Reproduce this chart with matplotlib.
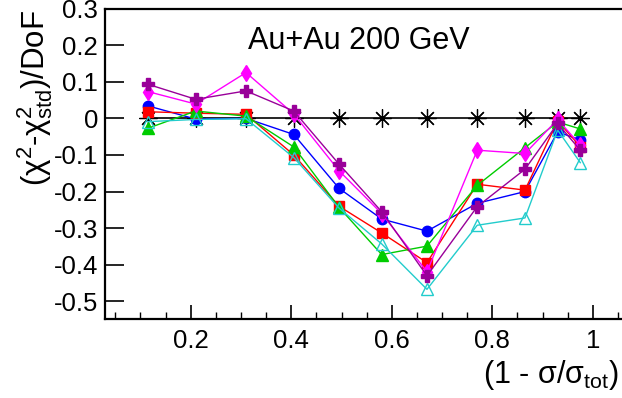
import matplotlib
matplotlib.use("Agg")
import matplotlib.pyplot as plt
from matplotlib.ticker import MultipleLocator

plt.rcParams['font.family'] = ['Liberation Sans', 'DejaVu Sans']
plt.rcParams['mathtext.fontset'] = 'custom'
plt.rcParams['mathtext.rm'] = 'Liberation Sans'
plt.rcParams['mathtext.it'] = 'Liberation Sans:italic'
plt.rcParams['mathtext.bf'] = 'Liberation Sans:bold'

x = [0.115, 0.21, 0.31, 0.405, 0.495, 0.58, 0.67, 0.77, 0.865, 0.93, 0.975]

ref_std = [0, 0, 0, 0, 0, 0, 0, 0, 0, 0, 0]
blue = [0.034, -0.002, 0.0, -0.044, -0.191, -0.275, -0.308, -0.232, -0.200, -0.037, -0.059]
red = [0.018, 0.014, 0.011, -0.100, -0.240, -0.313, -0.394, -0.180, -0.196, -0.007, -0.077]
green = [-0.027, 0.020, 0.006, -0.078, -0.243, -0.372, -0.349, -0.183, -0.080, -0.010, -0.029]
cyan = [-0.009, -0.003, -0.001, -0.107, -0.245, -0.343, -0.467, -0.292, -0.272, -0.032, -0.121]
magenta = [0.073, 0.039, 0.125, 0.012, -0.143, -0.260, -0.419, -0.087, -0.096, -0.003, -0.073]
purple = [0.093, 0.052, 0.075, 0.020, -0.125, -0.255, -0.430, -0.241, -0.139, -0.014, -0.087]

fig = plt.figure(figsize=(6.22, 3.98), dpi=100)
ax = fig.add_axes([105/622, (398-319)/398, (622-105)/622, (319-8.5)/398])

ax.plot(x, ref_std, color='black', lw=1.2, marker=(8, 2, 0), ms=13, mew=0.9, zorder=2)
ax.plot(x, blue, color='#0000ff', lw=1.0, marker='o', ms=7.5, zorder=3)
ax.plot(x, red, color='#ff0000', lw=1.0, marker='s', ms=7, zorder=4)
ax.plot(x, green, color='#00cc00', lw=1.0, marker='^', ms=8, zorder=5)
ax.plot(x, cyan, color='#22cccc', lw=1.0, marker='^', ms=8.5, mfc='none', mew=1.0, zorder=6)
ax.plot(x, magenta, color='#ff00ff', lw=1.0, marker='d', ms=8, zorder=7)
ax.plot(x, purple, color='#990099', lw=1.0, marker='P', ms=8.5, zorder=8)

ax.set_xlim(0.0295, 1.058)
ax.set_ylim(-0.548, 0.3)
ax.xaxis.set_minor_locator(MultipleLocator(0.05))
ax.set_yticks([0.3, 0.2, 0.1, 0.0, -0.1, -0.2, -0.3, -0.4, -0.5])
ax.set_yticklabels(['0.3', '0.2', '0.1', '0', '-0.1', '-0.2', '-0.3', '-0.4', '-0.5'])
ax.set_xticks([0.2, 0.4, 0.6, 0.8, 1.0])
ax.set_xticklabels(['0.2', '0.4', '0.6', '0.8', '1'])
ax.tick_params(axis='x', which='major', direction='in', length=10, width=1.2, labelsize=18.5, pad=7)
ax.tick_params(axis='x', which='minor', direction='in', length=5, width=1.0)
ax.tick_params(axis='y', which='major', direction='in', length=14, width=1.2, labelsize=18.5, pad=5)
for s in ['left', 'bottom', 'top']:
    ax.spines[s].set_linewidth(1.6)
ax.spines['right'].set_visible(False)

fig.text(248/622, 1 - 41/398, 'Au+Au 200 GeV', fontsize=22, ha='left', va='center')
fig.text(35/622, 1 - 10/398, '(χ$^{2}$-χ$^{2}_{\\mathrm{std}}$)/DoF', rotation=90,
         ha='center', va='top', fontsize=22.5)
fig.text(619/622, 1 - 375/398, '(1 - σ/σ$_{\\mathrm{tot}}$)', ha='right', va='center', fontsize=22)

fig.savefig('out.png', dpi=100)
